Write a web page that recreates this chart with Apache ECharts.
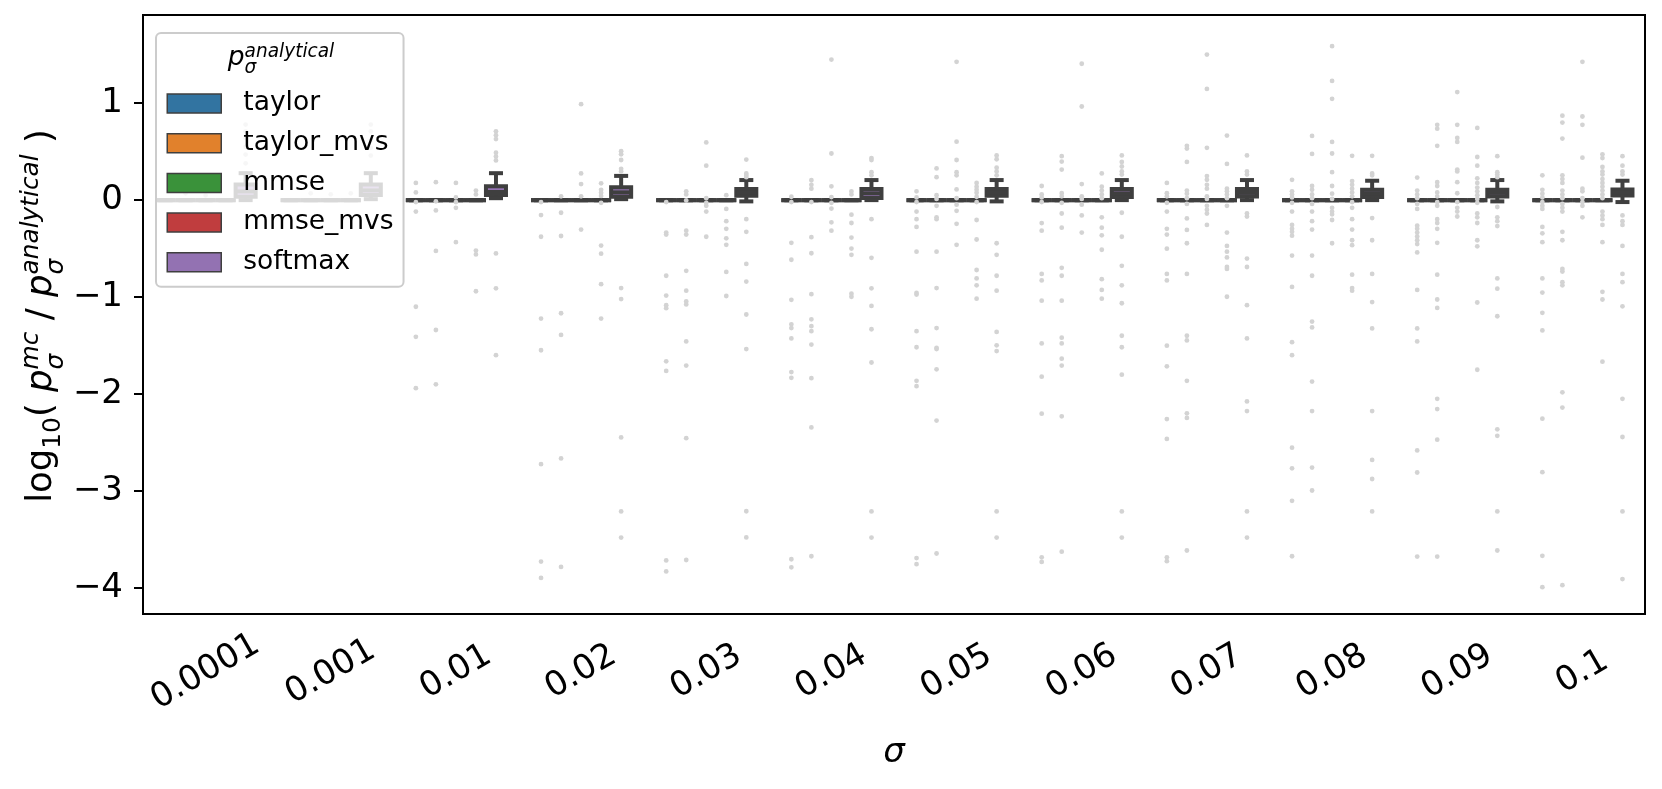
<!DOCTYPE html>
<html>
<head>
<meta charset="utf-8">
<script src="https://cdn.jsdelivr.net/npm/echarts@6/dist/echarts.min.js"></script>
<style>
  html, body { margin: 0; padding: 0; background: #fff; }
  #chart { width: 1662px; height: 789px; }
</style>
</head>
<body>
<div id="chart"></div>
<script>
// categories / groups
const sigmas = ['0.0001', '0.001', '0.01', '0.02', '0.03', '0.04', '0.05', '0.06', '0.07', '0.08', '0.09', '0.1'];
const hueNames = ['taylor', 'taylor_mvs', 'mmse', 'mmse_mvs', 'softmax'];
const hueColors = ['#3274a1', '#e1812c', '#3a923a', '#c03d3e', '#9372b2'];
const yTicks = [-4, -3, -2, -1, 0, 1];

// box stats: the four analytical-like estimators collapse to 0
const zeroStats = [0, 0, 0, 0, 0, 0, 0, 0, 0, 0, 0, 0];
// softmax box stats
const smLo  = [0.0, 0.01, 0.02, 0.01, -0.013, 0.0, -0.013, 0.0, 0.0, 0.0, -0.013, -0.02];
const smQ1  = [0.034, 0.052, 0.052, 0.034, 0.046, 0.023, 0.046, 0.031, 0.038, 0.031, 0.038, 0.047];
const smMed = [0.09, 0.10, 0.084, 0.08, 0.08, 0.07, 0.08, 0.07, 0.075, 0.07, 0.075, 0.08];
const smQ3  = [0.161, 0.161, 0.144, 0.134, 0.115, 0.115, 0.115, 0.115, 0.115, 0.107, 0.107, 0.109];
const smHi  = [0.278, 0.278, 0.278, 0.25, 0.207, 0.207, 0.207, 0.207, 0.207, 0.2, 0.207, 0.2];

// outliers per sigma
const fliersTaylor = [
  [], [],
  [0.177, 0.079, -0.02, -0.118, -1.10, -1.41, -1.94],
  [-0.02, -0.154, -0.378, -1.222, -1.549, -2.724, -3.729, -3.898],
  [-0.02, -0.335, -0.355, -0.78, -0.985, -1.084, -1.115, -1.663, -1.762, -3.717, -3.831],
  [0.035, -0.02, -0.441, -0.615, -1.029, -1.281, -1.32, -1.427, -1.774, -1.833, -3.705, -3.788],
  [0.091, 0.028, -0.02, -0.118, -0.197, -0.276, -0.532, -0.958, -0.974, -1.352, -1.518, -1.864, -1.92, -3.693, -3.756],
  [0.146, 0.059, 0.028, -0.02, -0.237, -0.315, -0.761, -0.828, -1.037, -1.478, -1.821, -2.203, -3.685, -3.733],
  [0.177, 0.071, 0.039, -0.028, -0.118, -0.296, -0.355, -0.501, -0.761, -0.828, -1.502, -1.715, -2.259, -2.464, -3.685, -3.725],
  [0.209, 0.091, 0.059, 0.028, -0.028, -0.118, -0.256, -0.296, -0.327, -0.367, -0.572, -0.895, -1.466, -1.6, -2.554, -2.767, -3.102, -3.674],
  [0.233, 0.099, 0.059, 0.02, -0.039, -0.091, -0.264, -0.296, -0.335, -0.374, -0.414, -0.453, -0.54, -0.926, -1.324, -1.458, -2.582, -2.81, -3.678],
  [0.256, 0.106, 0.067, 0.028, -0.02, -0.059, -0.091, -0.276, -0.343, -0.434, -0.808, -0.954, -1.163, -1.344, -2.255, -2.807, -3.67, -3.993]
];
const fliersTaylorMvs = [
  [0.07], [0.07],
  [0.185, -0.012, -0.106, -0.524, -1.34, -1.90],
  [0.039, -0.13, -0.37, -1.167, -1.391, -2.665, -3.784],
  [0.091, 0.059, -0.004, -0.315, -0.355, -0.729, -0.934, -1.045, -1.076, -1.458, -1.707, -2.456, -3.713],
  [0.205, 0.158, 0.118, -0.02, -0.382, -0.548, -0.97, -1.23, -1.30, -1.352, -1.49, -1.837, -2.345, -3.674],
  [0.327, 0.237, 0.051, 0.012, -0.059, -0.177, -0.197, -0.532, -0.907, -1.32, -1.525, -1.537, -1.746, -2.274, -3.646],
  [0.453, 0.398, 0.315, 0.071, 0.039, -0.028, -0.138, -0.284, -0.698, -0.78, -1.037, -1.419, -1.478, -1.636, -1.707, -2.231, -3.627],
  [0.56, 0.532, 0.394, 0.099, 0.067, 0.02, -0.039, -0.189, -0.307, -0.445, -0.761, -1.399, -1.447, -1.864, -2.2, -2.247, -3.615],
  [0.662, 0.477, 0.146, 0.106, 0.059, 0.02, -0.039, -0.118, -0.217, -0.304, -0.572, -0.78, -1.253, -1.313, -1.872, -2.176, -2.759, -2.996],
  [0.777, 0.737, 0.56, 0.185, 0.146, 0.079, 0.039, -0.02, -0.059, -0.197, -0.236, -0.296, -0.441, -0.769, -1.025, -1.112, -2.05, -2.156, -2.471, -3.678],
  [0.871, 0.8, 0.635, 0.256, 0.217, 0.177, 0.099, 0.059, 0.02, -0.039, -0.079, -0.118, -0.327, -0.414, -0.71, -0.737, -0.847, -0.879, -1.983, -2.14, -3.973]
];
const fliersMmse = [
  [0.05], [0.06],
  [0.177, 0.028, -0.02, -0.079, -0.434],
  [0.99, 0.276, 0.166, 0.039, -0.304],
  [0.595, 0.355, 0.02, -0.028, -0.059, -0.118, -0.378],
  [1.45, 0.481, 0.142, 0.032, -0.028, -0.087, -0.229, -0.315],
  [1.427, 0.603, 0.414, 0.288, 0.256, 0.11, 0.02, -0.047, -0.11, -0.244, -0.461],
  [1.407, 0.966, 0.166, 0.039, 0.012, -0.047, -0.158, -0.335],
  [1.502, 1.147, 0.54, 0.248, 0.209, 0.158, 0.118, 0.039, 0.012, -0.059, -0.099, -0.138, -0.256],
  [1.588, 1.23, 1.045, 0.6, 0.481, 0.288, 0.146, 0.067, 0.012, -0.079, -0.118, -0.146, -0.205, -0.445],
  [1.115, 0.777, 0.642, 0.6, 0.315, 0.296, 0.185, 0.071, -0.02, -0.079, -0.118, -0.169],
  [1.427, 0.863, 0.777, 0.438, 0.118, 0.091, 0.02, -0.02, -0.059, -0.177]
];
const fliersMmseMvs = [
  [], [0.07],
  [0.099, 0.059, -0.52, -0.56, -0.94],
  [0.173, 0.106, 0.075, 0.043, -0.028, -0.469, -0.552, -0.867, -1.222],
  [0.051, -0.091, -0.217, -0.296, -0.394, -0.461, -0.741, -0.989],
  [0.091, 0.059, -0.15, -0.236, -0.386, -0.5, -0.564, -0.966, -0.997],
  [0.177, 0.138, 0.106, 0.075, 0.035, -0.02, -0.205, -0.406, -0.721, -0.808, -0.879, -1.017],
  [0.276, 0.138, 0.099, 0.059, 0.02, -0.177, -0.284, -0.363, -0.512, -0.816, -0.926, -1.017],
  [0.666, 0.374, 0.118, 0.091, 0.059, 0.02, -0.059, -0.335, -0.473, -0.532, -0.591, -0.69, -0.71, -0.997],
  [0.457, 0.197, 0.158, 0.118, 0.079, 0.039, -0.02, -0.079, -0.197, -0.304, -0.414, -0.465, -0.769, -0.907, -0.934],
  [0.745, 0.445, 0.355, 0.225, 0.177, 0.13, 0.091, 0.051, 0.012, -0.028, -0.138, -0.177, -0.236, -0.414, -0.477, -1.056, -1.75],
  [0.473, 0.434, 0.343, 0.296, 0.264, 0.217, 0.177, 0.138, 0.099, 0.059, 0.02, -0.118, -0.158, -0.197, -0.256, -0.434, -0.946, -1.025, -1.667]
];
const fliersSoftmax = [
  [0.78, 0.71, 0.64, 0.55, 0.47, 0.38],
  [0.78, 0.71, 0.62, 0.54, 0.46],
  [0.71, 0.67, 0.63, 0.49, 0.45, 0.41, -0.55, -0.91, -1.60],
  [0.505, 0.473, 0.414, 0.323, 0.296, -0.907, -1.021, -2.448, -3.212, -3.481],
  [0.418, 0.276, 0.256, 0.237, -0.197, -0.327, -0.658, -0.84, -1.18, -1.537, -3.21, -3.48],
  [0.434, 0.414, 0.288, 0.256, -0.197, -0.595, -0.91, -1.092, -1.332, -1.675, -3.212, -3.481],
  [0.461, 0.422, 0.335, 0.296, 0.256, -0.445, -0.564, -0.78, -0.934, -1.36, -1.498, -1.557, -3.212, -3.481],
  [0.461, 0.394, 0.347, 0.296, 0.264, -0.13, -0.378, -0.678, -0.879, -1.064, -1.399, -1.518, -1.801, -3.212, -3.481],
  [0.461, 0.296, 0.264, -0.138, -0.169, -0.603, -0.69, -1.084, -1.427, -2.077, -2.176, -3.212, -3.481],
  [0.457, 0.276, 0.256, -0.185, -0.414, -0.761, -1.052, -1.324, -2.176, -2.68, -2.877, -3.212],
  [0.453, 0.288, 0.264, 0.237, -0.071, -0.177, -0.217, -0.268, -0.808, -0.914, -1.198, -2.365, -2.432, -3.212, -3.615],
  [0.453, 0.355, 0.296, 0.264, -0.158, -0.217, -0.256, -0.473, -0.761, -0.847, -1.096, -2.05, -2.444, -3.212, -3.91]
];

const boxStats = [
  [zeroStats, zeroStats, zeroStats, zeroStats, zeroStats],
  [zeroStats, zeroStats, zeroStats, zeroStats, zeroStats],
  [zeroStats, zeroStats, zeroStats, zeroStats, zeroStats],
  [zeroStats, zeroStats, zeroStats, zeroStats, zeroStats],
  [smLo, smQ1, smMed, smQ3, smHi]
];
const fliers = [fliersTaylor, fliersTaylorMvs, fliersMmse, fliersMmseMvs, fliersSoftmax];

const FONT = '"DejaVu Sans", sans-serif';
const LINE = '#3f3f3f';
const LW = 4;

// where a hue sits inside its sigma band (seaborn dodge, width 0.8)
function slotOf(api, cat, h) {
  const band = api.size([1, 0])[0];
  const c = api.coord([cat, 0])[0];
  const slot = band * 0.8 / hueNames.length;
  return { cx: c - band * 0.4 + slot * (h + 0.5), slot: slot };
}

function boxRender(h) {
  return function (params, api) {
    const cat = api.value(0);
    const s = slotOf(api, cat, h);
    const y = (k) => api.coord([cat, api.value(k)])[1];
    const yLo = y(1), yQ1 = y(2), yMed = y(3), yQ3 = y(4), yHi = y(5);
    const half = s.slot / 2, cap = s.slot / 4;
    const ln = (x1, y1, x2, y2, capStyle) => ({
      type: 'line', shape: { x1: x1, y1: y1, x2: x2, y2: y2 },
      style: { stroke: LINE, lineWidth: LW, lineCap: capStyle || 'butt' }
    });
    return {
      type: 'group',
      children: [
        { type: 'rect', shape: { x: s.cx - half, y: yQ3, width: s.slot, height: yQ1 - yQ3 },
          style: { fill: api.visual('color'), stroke: LINE, lineWidth: LW } },
        ln(s.cx, yQ3, s.cx, yHi),
        ln(s.cx, yQ1, s.cx, yLo),
        ln(s.cx - cap, yHi, s.cx + cap, yHi, 'square'),
        ln(s.cx - cap, yLo, s.cx + cap, yLo, 'square'),
        ln(s.cx - half, yMed, s.cx + half, yMed)
      ]
    };
  };
}

const boxSeries = hueNames.map((name, h) => ({
  name: name,
  type: 'custom',
  silent: true,
  z: 2,
  itemStyle: { color: hueColors[h] },
  encode: { x: 0, y: [1, 2, 3, 4, 5] },
  renderItem: boxRender(h),
  data: sigmas.map((sg, i) => [i, boxStats[h][0][i], boxStats[h][1][i], boxStats[h][2][i], boxStats[h][3][i], boxStats[h][4][i]])
}));

const flierData = [];
fliers.forEach((perCat, h) => perCat.forEach((vals, i) => vals.forEach(v => flierData.push([i, h, v]))));

const flierSeries = {
  name: 'fliers',
  type: 'custom',
  silent: true,
  z: 3,
  encode: { x: 0, y: 2 },
  renderItem: function (params, api) {
    const cat = api.value(0);
    const s = slotOf(api, cat, api.value(1));
    const p = api.coord([cat, api.value(2)]);
    return { type: 'circle', shape: { cx: s.cx, cy: p[1], r: 2.4 }, style: { fill: '#d3d3d3' } };
  },
  data: flierData
};

// mathtext-like runs built from small text pieces
const mctx = document.createElement('canvas').getContext('2d');
function textW(t, size, it) {
  mctx.font = (it ? 'italic ' : '') + size + 'px "DejaVu Sans"';
  return mctx.measureText(t).width;
}
function mathRun(pieces, f, baseY) {
  let x = 0, stackW = 0;
  const out = [];
  pieces.forEach(p => {
    const size = f * (p.s || 1);
    const w = textW(p.t, size, p.it);
    out.push({
      type: 'text', z: 100, x: x, y: baseY + (p.dy || 0) * f - 0.35 * size,
      style: { text: p.t, fontSize: size, fontFamily: FONT, fontStyle: p.it ? 'italic' : 'normal',
               fill: '#000', align: 'left', verticalAlign: 'middle' }
    });
    if (p.stack) { stackW = Math.max(stackW, w); }
    else { x += Math.max(w, stackW); stackW = 0; }
  });
  out.forEach(o => { o.x -= x / 2; });
  return out;
}

const yTitleF = 35.5;
const yTitle = mathRun([
  { t: 'log' }, { t: '10', s: 0.7, dy: 0.22 }, { t: '( ' },
  { t: 'p', it: 1 }, { t: 'σ', s: 0.7, it: 1, dy: 0.3, stack: 1 }, { t: 'mc', s: 0.7, it: 1, dy: -0.4 },
  { t: ' / ' },
  { t: 'p', it: 1 }, { t: 'σ', s: 0.7, it: 1, dy: 0.3, stack: 1 }, { t: 'analytical', s: 0.7, it: 1, dy: -0.4 },
  { t: ' )' }
], yTitleF, 0.3 * yTitleF);

const legendTitle = mathRun([
  { t: 'p', it: 1 }, { t: 'σ', s: 0.7, it: 1, dy: 0.3, stack: 1 }, { t: 'analytical', s: 0.7, it: 1, dy: -0.32 }
], 26.5, 0);

const option = {
  animation: false,
  backgroundColor: '#fff',
  textStyle: { fontFamily: FONT },
  grid: { left: 143, right: 17, top: 15, bottom: 175, show: true, borderColor: '#000', borderWidth: 2, backgroundColor: 'transparent' },
  legend: {
    data: hueNames,
    selectedMode: false,
    left: 156, top: 33,
    orient: 'vertical',
    icon: 'rect',
    itemWidth: 54, itemHeight: 19, itemGap: 12.7,
    itemStyle: { borderColor: LINE, borderWidth: 1.5 },
    textStyle: { fontSize: 26.5, color: '#000', fontFamily: FONT, padding: [0, 0, 0, 17] },
    padding: [57, 10, 11, 10.5],
    backgroundColor: 'rgba(255,255,255,0.8)',
    borderColor: '#cccccc', borderWidth: 2, borderRadius: 5,
    z: 5
  },
  xAxis: {
    type: 'category',
    data: sigmas,
    boundaryGap: true,
    axisLine: { show: true, onZero: false, lineStyle: { color: '#000', width: 2 } },
    axisTick: { alignWithLabel: true, length: 9, lineStyle: { color: '#000', width: 2 } },
    axisLabel: { interval: 0, rotate: 30, align: 'center', verticalAlign: 'middle', margin: 58, fontSize: 34, color: '#000', fontFamily: FONT },
    splitLine: { show: false },
    name: 'σ', nameLocation: 'middle', nameGap: 122,
    nameTextStyle: { fontSize: 34, fontStyle: 'italic', color: '#000', fontFamily: FONT }
  },
  yAxis: {
    type: 'value',
    min: -4.27, max: 1.91,
    axisLine: { show: true, lineStyle: { color: '#000', width: 2 } },
    axisTick: { show: true, customValues: yTicks, length: 9, lineStyle: { color: '#000', width: 2 } },
    axisLabel: {
      customValues: yTicks, margin: 20, fontSize: 34, color: '#000', fontFamily: FONT,
      formatter: v => (v < 0 ? '\u2212' + Math.abs(v) : String(v))
    },
    splitLine: { show: false }
  },
  graphic: [
    { type: 'group', x: 44, y: 316, rotation: Math.PI / 2, children: yTitle },
    { type: 'group', x: 281, y: 67, z: 100, children: legendTitle }
  ],
  series: boxSeries.concat([flierSeries])
};

echarts.init(document.getElementById('chart'), null, { renderer: 'canvas' }).setOption(option);
</script>
</body>
</html>
